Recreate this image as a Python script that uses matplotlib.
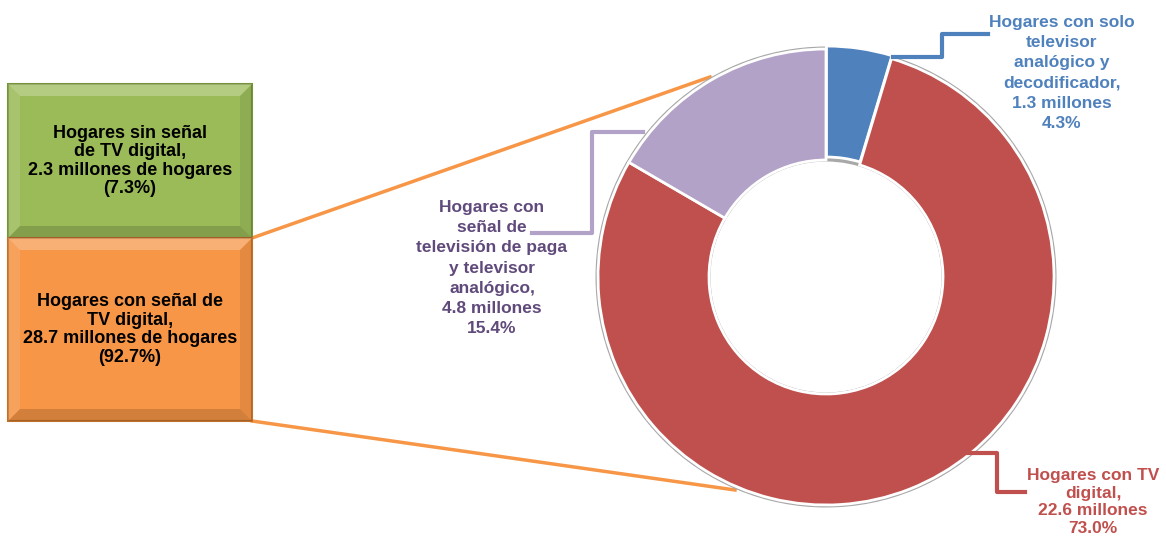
import matplotlib.pyplot as plt
from matplotlib.patches import Rectangle, Polygon, Wedge

plt.rcParams['font.family'] = ['Liberation Sans', 'DejaVu Sans']

# datos de las cajas (total de hogares)
box_labels = ['Hogares sin señal\nde TV digital,\n2.3 millones de hogares\n(7.3%)',
              'Hogares con señal de\nTV digital,\n28.7 millones de hogares\n(92.7%)']
box_values = [7.3, 92.7]
box_colors = ['#9BBB59', '#F79646']
box_edges = ['#76923C', '#C0712C']

# datos de la dona (hogares con senal digital)
donut_labels = ['Hogares con solo\ntelevisor\nanalógico y\ndecodificador,\n1.3 millones\n4.3%',
                'Hogares con TV\ndigital,\n22.6 millones\n73.0%',
                'Hogares con\nseñal de\ntelevisión de paga\ny televisor\nanalógico,\n4.8 millones\n15.4%']
donut_values = [4.3, 73.0, 15.4]
donut_colors = ['#4F81BD', '#C0504D', '#B3A2C7']
text_colors = ['#4F81BD', '#C0504D', '#604A7B']
leader_colors = ['#4F81BD', '#C0504D', '#B3A2C7']

# layout (pixeles de la imagen)
W, H = 1166, 540
cx, cy, R, ring = 826, 277, 228, 111
box_x, box_w = 8, 244
box_tops = [84, 238]
box_hs = [154, 183]
label_pos = [(1062, 73), (1093, 502), (492, 268)]
label_spacing = [1.42, 1.24, 1.44]
leaders = [[(893, 57), (942, 57), (942, 34), (988, 34)],
           [(967, 453), (997, 453), (997, 492), (1025, 492)],
           [(643, 132), (592, 132), (592, 233), (532, 233)]]

fig = plt.figure(figsize=(W / 100, H / 100), dpi=100)
ax = fig.add_axes([0, 0, 1, 1])

# cajas con bisel
bev = 12
for i in range(len(box_values)):
    x0, y0, w, h = box_x, box_tops[i], box_w, box_hs[i]
    ax.add_patch(Rectangle((x0, y0), w, h, facecolor=box_colors[i],
                           edgecolor=box_edges[i], lw=1.5, zorder=2))
    x1, y1 = x0 + w, y0 + h
    ax.add_patch(Polygon([(x0, y0), (x1, y0), (x1 - bev, y0 + bev), (x0 + bev, y0 + bev)],
                         facecolor='white', alpha=0.25, lw=0, zorder=3))
    ax.add_patch(Polygon([(x0, y1), (x1, y1), (x1 - bev, y1 - bev), (x0 + bev, y1 - bev)],
                         facecolor='black', alpha=0.15, lw=0, zorder=3))
    ax.add_patch(Polygon([(x1, y0), (x1, y1), (x1 - bev, y1 - bev), (x1 - bev, y0 + bev)],
                         facecolor='black', alpha=0.08, lw=0, zorder=3))
    ax.add_patch(Polygon([(x0, y0), (x0, y1), (x0 + bev, y1 - bev), (x0 + bev, y0 + bev)],
                         facecolor='white', alpha=0.12, lw=0, zorder=3))
    ax.text(x0 + w / 2, y0 + h / 2, box_labels[i], ha='center', va='center',
            fontsize=13, fontweight='bold', color='black', linespacing=1.12, zorder=4)

# lineas de conexion caja -> dona
ax.plot([box_x + box_w, 710], [box_tops[1], 77], color='#F79646', lw=2.5, zorder=1)
ax.plot([box_x + box_w, 735], [box_tops[1] + box_hs[1], 490], color='#F79646', lw=2.5, zorder=1)

# sombra del anillo
ax.add_patch(Wedge((cx, cy), R + 2.5, 0, 360, width=ring + 4, facecolor='#A8A8A8',
                   lw=0, zorder=4))

wedges, _ = ax.pie(donut_values, colors=donut_colors, center=(cx, cy), radius=R,
                   startangle=-90, counterclock=True, explode=[3, 0, 0],
                   wedgeprops=dict(width=ring, edgecolor='white', linewidth=2),
                   frame=True)
for wdg in wedges:
    wdg.set_zorder(5)

for i, lab in enumerate(donut_labels):
    ax.plot(*zip(*leaders[i]), color=leader_colors[i], lw=3, zorder=6)
    ax.text(label_pos[i][0], label_pos[i][1], lab, ha='center', va='center',
            fontsize=12.5, fontweight='bold', color=text_colors[i],
            linespacing=label_spacing[i], zorder=7)

ax.set_xlim(0, W)
ax.set_ylim(H, 0)
ax.set_aspect('equal')
ax.axis('off')

fig.savefig('out.png', dpi=100)
